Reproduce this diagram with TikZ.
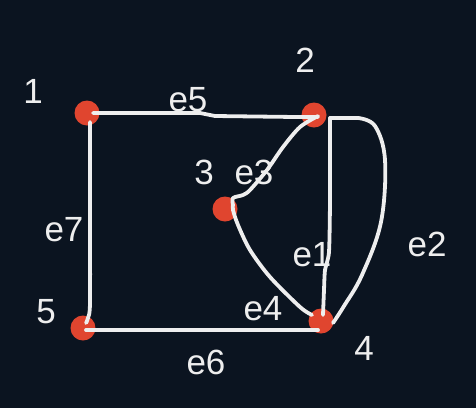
\documentclass[tikz,border=0pt]{standalone}
\usepackage{fontspec}
\setmainfont{Liberation Sans}
\definecolor{bgc}{HTML}{0B1420}
\definecolor{dotc}{HTML}{E0452F}
\definecolor{inkc}{HTML}{EEEEEE}
\begin{document}
\begin{tikzpicture}[x=1pt,y=-1pt,
  vtx/.style={circle,fill=dotc,minimum size=25pt,inner sep=0pt},
  lbl/.style={text=inkc,inner sep=0pt,font=\fontsize{35}{40}\selectfont},
  edge/.style={draw=inkc,line width=3.8pt,line cap=round,line join=round}]
\fill[bgc] (0,0) rectangle (476,408);
\useasboundingbox (0,0) rectangle (476,408);
% vertices
\node[vtx] (n1) at (87,113) {};
\node[vtx] (n2) at (314,115) {};
\node[vtx] (n3) at (225,209) {};
\node[vtx] (n4) at (321,321) {};
\node[vtx] (n5) at (83,328) {};
% vertex labels
\node[lbl] (l1) at (33,91) {1};
\node[lbl] (l2) at (305,60) {2};
\node[lbl] (l3) at (204,172) {3};
\node[lbl] (l4) at (364,348) {4};
\node[lbl] (l5) at (46,312) {5};
% edges
\draw[edge] ([shift={(6,0)}]n1.center) -- (200,113) -- (215,116) -- (296,117) -- ([shift={(4,2)}]n2.center);
\draw[edge] plot[smooth,tension=0.5] coordinates {([shift={(4,1)}]n2.center) (300,127) (283,147) (267,170) (250,190) (243,195) (233,198) ([shift={(8,-4)}]n3.center)};
\draw[edge] plot[smooth,tension=0.5] coordinates {([shift={(8,-4)}]n3.center) (233,210) (238,225) (250,250) (270,277) (300,307) ([shift={(-9,-6)}]n4.center)};
\draw[edge] plot[smooth,tension=0.4] coordinates {(330,118) (330,200) (329,252) (325,270) (324,290) ([shift={(2,-6)}]n4.center)};
\draw[edge] (330,118) -- (358,118);
\draw[edge] plot[smooth,tension=0.6] coordinates {(358,118) (375,126) (385,160) (381,222) (362,275) (344,306) ([shift={(12,2)}]n4.center)};
\draw[edge] plot[smooth,tension=0.4] coordinates {([shift={(3,9)}]n1.center) (90,200) (90,303) (88,318) ([shift={(3,-5)}]n5.center)};
\draw[edge] ([shift={(3,2)}]n5.center) -- ([shift={(-3,9)}]n4.center);
% edge labels
\node[lbl] (le5) at (188,100) {e5};
\node[lbl] (le3) at (254,172) {e3};
\node[lbl] (le7) at (64,230) {e7};
\node[lbl] (le1) at (312,255) {e1};
\node[lbl] (le2) at (427,244) {e2};
\node[lbl] (le4) at (263,309) {e4};
\node[lbl] (le6) at (206,362) {e6};
\end{tikzpicture}
\end{document}
